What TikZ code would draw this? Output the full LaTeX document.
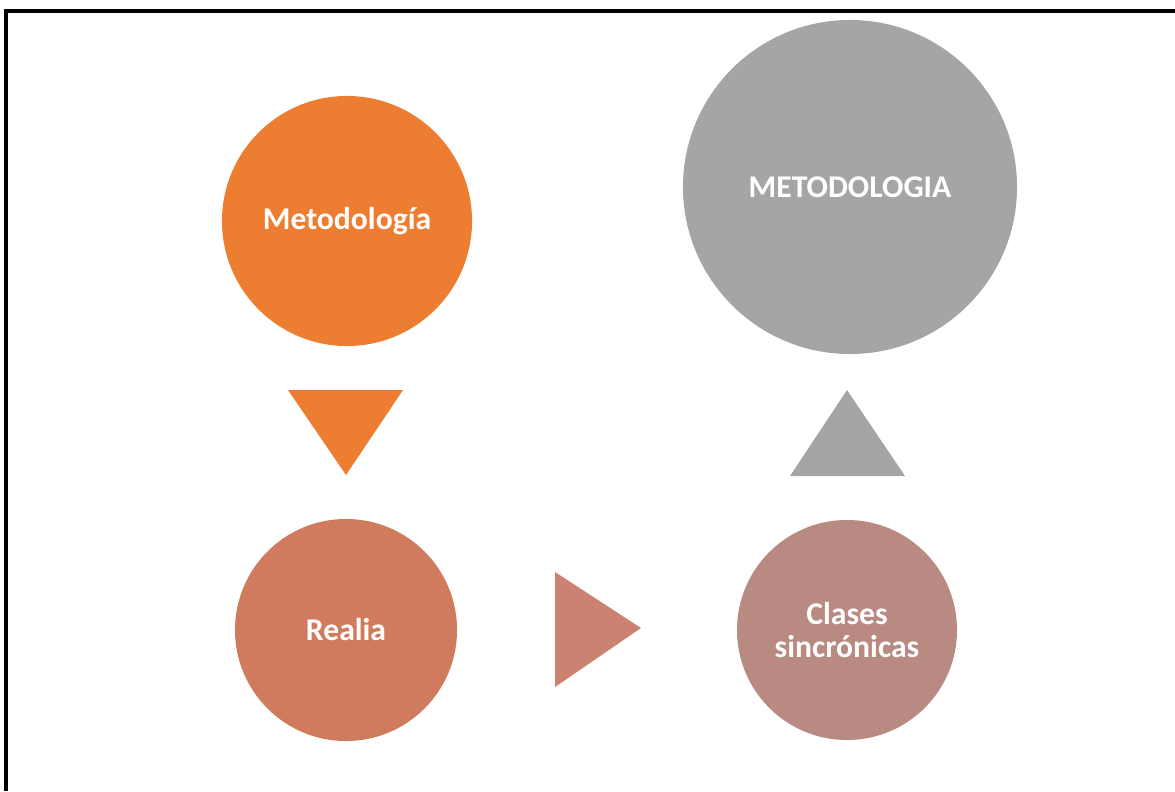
\documentclass[tikz,border=0pt]{standalone}
\usepackage{fontspec}
\setmainfont{Carlito}
\usepackage{xcolor}
\usetikzlibrary{positioning}

\definecolor{metOrange}{HTML}{ED7D31}
\definecolor{realiaRed}{HTML}{D07B5D}
\definecolor{arrowRed}{HTML}{CC8270}
\definecolor{clasesRose}{HTML}{B98A81}
\definecolor{metGray}{HTML}{A5A5A5}

\begin{document}
\begin{tikzpicture}[
    x=0.025cm, y=-0.025cm,
    bubble/.style={circle, inner sep=0pt, text=white, font=\bfseries\fontsize{22.5}{24}\selectfont, align=center},
    frame/.style={line width=2.2pt, black}
]

\useasboundingbox (0,0) rectangle (1175,791);

% frame (only left and top edges are visible)
\draw[frame] (6,791) -- (6,11) -- (1175,11);

\node[bubble, fill=metOrange, minimum size=6.25cm] (metodo) at (347,221) {Metodología};
\node[bubble, fill=realiaRed, minimum size=5.55cm] (realia) at (346,630) {Realia};
\node[bubble, fill=clasesRose, minimum size=5.5cm] (clases) at (847,630) {Clases\\sincrónicas};
\node[bubble, fill=metGray, minimum size=8.35cm] (metodologia) at (850,187) {METODOLOGIA};

% triangles between the circles
\fill[metOrange] (288,390) -- (403,390) -- (346,475) -- cycle;
\fill[arrowRed] (555,572) -- (641,628) -- (555,687) -- cycle;
\fill[metGray] (790,476) -- (905,476) -- (847,390) -- cycle;

\end{tikzpicture}
\end{document}
